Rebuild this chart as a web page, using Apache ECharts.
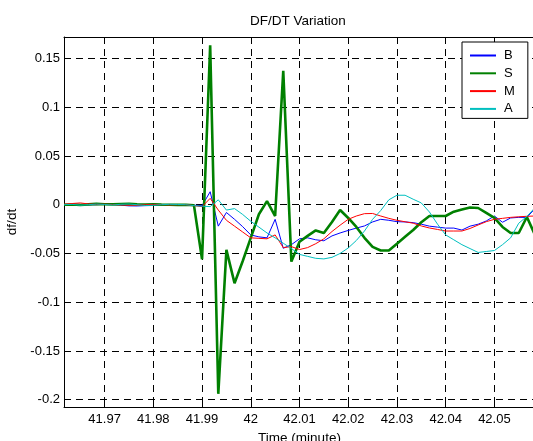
<!DOCTYPE html>
<html><head><meta charset="utf-8">
<script src="https://cdn.jsdelivr.net/npm/echarts@6/dist/echarts.min.js"></script>
<style>html,body{margin:0;padding:0;background:#fff}#c{width:533px;height:441px}</style>
</head><body><div id="c"></div>
<script>
// time in minutes (0.1 s sampling)
const times = [41.961667, 41.963333, 41.965, 41.966667, 41.968333, 41.97, 41.971667, 41.973333, 41.975, 41.976667,
  41.978333, 41.98, 41.981667, 41.983333, 41.985, 41.986667, 41.988333, 41.99, 41.991667, 41.993333,
  41.995, 41.996667, 41.998333, 42.0, 42.001667, 42.003333, 42.005, 42.006667, 42.008333, 42.01,
  42.011667, 42.013333, 42.015, 42.016667, 42.018333, 42.02, 42.021667, 42.023333, 42.025, 42.026667,
  42.028333, 42.03, 42.031667, 42.033333, 42.035, 42.036667, 42.038333, 42.04, 42.041667, 42.043333,
  42.045, 42.046667, 42.048333, 42.05, 42.051667, 42.053333, 42.055, 42.056667, 42.058333];

const seriesNames = ['B', 'S', 'M', 'A'];

const bValues = [0, 0.0005, 0.0003, -0.0002, 0, 0.0004, 0.0002, -0.0005, -0.0012, -0.0013, -0.001, -0.0008, -0.0002, 0, 0.0002, 0, -0.0005,
  -0.001, 0.0133, -0.022, -0.008, -0.015, -0.0225, -0.031, -0.033, -0.034, -0.015,
  -0.0447, -0.041, -0.035, -0.034, -0.036, -0.037, -0.032, -0.029, -0.0264, -0.024,
  -0.0218, -0.0177, -0.015, -0.016, -0.0174, -0.0177, -0.0184, -0.020, -0.022, -0.023,
  -0.024, -0.024, -0.026, -0.022, -0.020, -0.0167, -0.0116, -0.018, -0.0136, -0.013,
  -0.013, -0.004];

const sValues = [0, 0.0002, -0.0003, 0.0003, 0.0008, 0.0005, 0.0003, 0.0006, 0.0008, 0.0004, 0.0002, 0.0003, 0.0001, 0, -0.0002, 0, -0.0005,
  -0.056, 0.1636, -0.194, -0.0464, -0.0805, -0.058, -0.034, -0.0098, 0.0036, -0.0116,
  0.1373, -0.0584, -0.038, -0.032, -0.0264, -0.029, -0.0177, -0.0054, -0.0136, -0.0228,
  -0.034, -0.0433, -0.047, -0.047, -0.040, -0.033, -0.026, -0.018, -0.0116, -0.0116,
  -0.0116, -0.0072, -0.0049, -0.0029, -0.0034, -0.0085, -0.0136, -0.0228, -0.029, -0.029,
  -0.0126, -0.031];

const mValues = [0.0005, 0.0012, 0.0018, 0.0008, 0.0003, 0.0005, 0.0002, -0.0002, -0.0006, -0.0004, 0, 0.0003, 0.0001, -0.0002, 0, 0, -0.001,
  -0.002, 0.0065, -0.0055, -0.016, -0.022, -0.028, -0.034, -0.0345, -0.035, -0.031,
  -0.044, -0.043, -0.046, -0.044, -0.040, -0.035, -0.0275, -0.021, -0.015, -0.0116,
  -0.0092, -0.009, -0.0116, -0.014, -0.016, -0.0175, -0.019, -0.0218, -0.0239, -0.0254,
  -0.027, -0.027, -0.027, -0.0244, -0.0208, -0.0174, -0.015, -0.014, -0.013, -0.0124,
  -0.0119, -0.0116];

const aValues = [0, 0.0003, -0.0005, 0, 0.0006, 0.0002, -0.0003, 0.0004, 0.0007, 0, -0.0008, -0.0006, 0, 0.0004, 0.0002, 0, -0.001,
  -0.0015, -0.002, 0.005, -0.0055, -0.004, -0.010, -0.017, -0.023, -0.029, -0.034,
  -0.0395, -0.045, -0.051, -0.053, -0.055, -0.0556, -0.054, -0.050, -0.0444, -0.0367,
  -0.027, -0.015, -0.006, 0.005, 0.0097, 0.0097, 0.0056, 0.0018, -0.0075, -0.020,
  -0.031, -0.036, -0.041, -0.045, -0.049, -0.048, -0.047, -0.041, -0.034, -0.019,
  -0.012, -0.003];

const xTicks = [41.97, 41.98, 41.99, 42, 42.01, 42.02, 42.03, 42.04, 42.05];
const yTicks = [-0.2, -0.15, -0.1, -0.05, 0, 0.05, 0.1, 0.15];

const colors = ['#0000ff', '#008000', '#ff0000', '#00bfbf'];
const widths = [1, 2.6, 1, 1];
const valueSets = [bValues, sValues, mValues, aValues];

const fmt = v => String(parseFloat(Number(v).toFixed(2)));
const FONT = 'Liberation Sans, Arial, Helvetica, sans-serif';
const gridLine = { show: true, lineStyle: { color: '#000', width: 1, type: [7, 5] } };

const chart = echarts.init(document.getElementById('c'), null, { renderer: 'canvas' });
chart.setOption({
  animation: false,
  backgroundColor: '#fff',
  textStyle: { fontFamily: FONT, color: '#000' },
  title: {
    text: 'DF/DT Variation', left: 250, top: 14, padding: 0,
    textStyle: { fontFamily: FONT, fontSize: 13.5, fontWeight: 'normal', color: '#000' }
  },
  grid: { left: 64, right: -2, top: 37, bottom: 34, containLabel: false, outerBoundsMode: 'none' },
  legend: {
    orient: 'vertical', left: 462, top: 42,
    data: seriesNames,
    itemWidth: 26, itemHeight: 14, itemGap: 4.8,
    padding: [7, 13, 3, 7],
    backgroundColor: '#fff', borderColor: '#000', borderWidth: 1, borderRadius: 0,
    itemStyle: { opacity: 0 },
    textStyle: { fontFamily: FONT, fontSize: 13, color: '#000', padding: [0, 0, 0, 3] },
    selectedMode: false
  },
  xAxis: [{
    type: 'value', position: 'bottom',
    min: times[0], max: times[times.length - 1],
    name: 'Time (minute)', nameLocation: 'middle', nameGap: 22,
    nameTextStyle: { fontFamily: FONT, fontSize: 13.5, color: '#000' },
    axisLine: { show: true, onZero: false, lineStyle: { color: '#000', width: 1 } },
    axisTick: { show: true, inside: true, length: 5, customValues: xTicks, lineStyle: { color: '#000' } },
    axisLabel: { show: true, margin: 6, customValues: xTicks, formatter: fmt, fontFamily: FONT, fontSize: 13, color: '#000' },
    splitLine: gridLine
  }, {
    type: 'value', position: 'top',
    min: times[0], max: times[times.length - 1],
    axisLine: { show: true, onZero: false, lineStyle: { color: '#000', width: 1 } },
    axisTick: { show: true, inside: true, length: 5, customValues: xTicks, lineStyle: { color: '#000' } },
    axisLabel: { show: false },
    splitLine: { show: false }
  }],
  yAxis: [{
    type: 'value', position: 'left',
    min: -0.2075, max: 0.172,
    name: 'df/dt', nameLocation: 'middle', nameGap: 39, nameRotate: 90,
    nameTextStyle: { fontFamily: FONT, fontSize: 13.5, color: '#000' },
    axisLine: { show: true, onZero: false, lineStyle: { color: '#000', width: 1 } },
    axisTick: { show: true, inside: true, length: 5, customValues: yTicks, lineStyle: { color: '#000' } },
    axisLabel: { show: true, margin: 4, customValues: yTicks, formatter: fmt, fontFamily: FONT, fontSize: 13, color: '#000' },
    splitLine: gridLine
  }],
  series: seriesNames.map((name, i) => ({
    name: name, type: 'line', xAxisIndex: 0, yAxisIndex: 0,
    symbol: 'none', clip: true,
    data: times.map((t, j) => [t, valueSets[i][j]]),
    lineStyle: { color: colors[i], width: widths[i] },
    itemStyle: { color: colors[i] }
  }))
});
</script>
</body></html>
